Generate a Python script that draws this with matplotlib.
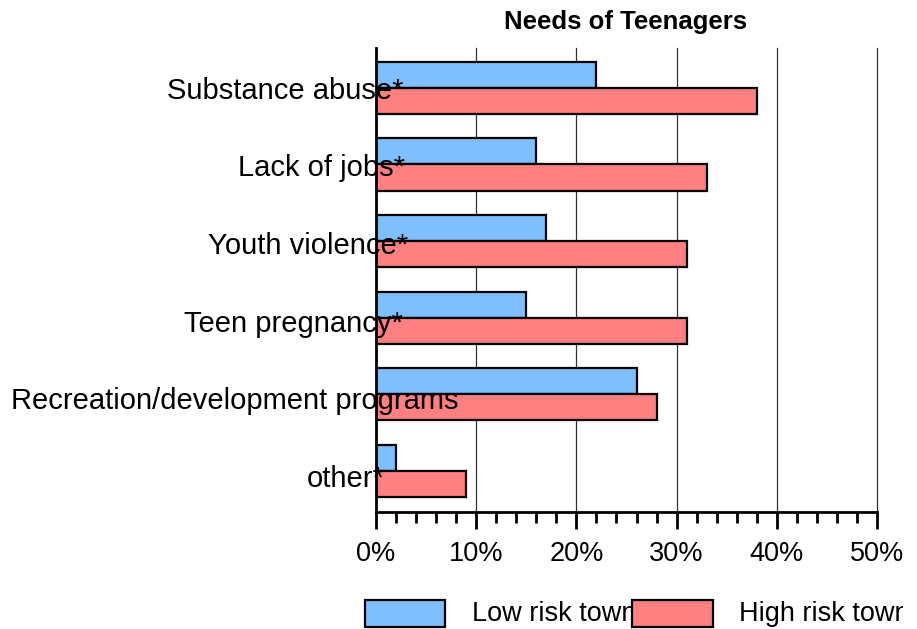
import matplotlib.pyplot as plt
import numpy as np
from matplotlib.patches import Rectangle
from matplotlib.ticker import MultipleLocator, FuncFormatter

# ---------------------------------------------------------------------------
# Data
# ---------------------------------------------------------------------------
CATEGORIES = [
    'Substance abuse*',
    'Lack of jobs*',
    'Youth violence*',
    'Teen pregnancy*',
    'Recreation/development programs',
    'other*',
]
LOW_RISK = [22, 16, 17, 15, 26, 2]      # % of respondents, low risk towns
HIGH_RISK = [38, 33, 31, 31, 28, 9]     # % of respondents, high risk towns
SERIES_NAMES = ['Low risk town', 'High risk town']
TITLE = 'Needs of Teenagers'

# ---------------------------------------------------------------------------
# Style / layout
# ---------------------------------------------------------------------------
LOW_COLOR = '#80BFFF'
HIGH_COLOR = '#FF8080'
EDGE_LW = 1.6
BAR_H = 0.34
FONT = 'Liberation Sans'

# right end of each category label, in % along the x axis
LABEL_RIGHT = [2.7, 2.9, 3.2, 2.7, 8.2, 0.9]

W, H = 917, 629
plt.rcParams['font.family'] = [FONT, 'DejaVu Sans']

fig = plt.figure(figsize=(W / 100, H / 100), dpi=100)
ax = fig.add_axes([376 / W, 1 - 512 / H, 501 / W, 464 / H])

y = np.arange(len(CATEGORIES))
ax.barh(y - BAR_H / 2, LOW_RISK, height=BAR_H, color=LOW_COLOR,
        edgecolor='black', linewidth=EDGE_LW, zorder=2)
ax.barh(y + BAR_H / 2, HIGH_RISK, height=BAR_H, color=HIGH_COLOR,
        edgecolor='black', linewidth=EDGE_LW, zorder=2)

# category names sit on top of the bars, right-aligned near the axis
for i, (name, xr) in enumerate(zip(CATEGORIES, LABEL_RIGHT)):
    ax.text(xr, i + 0.013 * i, name, ha='right', va='center_baseline',
            fontsize=21, zorder=5)

ax.set_xlim(0, 50)
ax.set_ylim(5.535, -0.52)
ax.xaxis.set_major_locator(MultipleLocator(10))
ax.xaxis.set_minor_locator(MultipleLocator(2))
ax.xaxis.set_major_formatter(FuncFormatter(lambda v, _: f'{v:.0f}%'))
ax.tick_params(axis='x', which='major', length=12, width=2, pad=9,
               labelsize=19.5)
ax.tick_params(axis='x', which='minor', length=8, width=2)
ax.set_yticks([])

for side in ('top', 'right'):
    ax.spines[side].set_visible(False)
for side in ('left', 'bottom'):
    ax.spines[side].set_linewidth(2)
ax.grid(axis='x', which='major', color='#333333', linewidth=0.9, zorder=0)
ax.set_axisbelow(True)
for gl in ax.get_xgridlines():
    gl.set_clip_on(False)

fig.text(626 / W, 1 - 22 / H, TITLE, ha='center', va='center',
         fontsize=18.5, fontweight='bold')

# ---- legend, laid out by hand --------------------------------------------
leg_y0, leg_y1 = 1 - 627 / H, 1 - 600 / H
fig.patches.append(Rectangle((365 / W, leg_y0), 80 / W, leg_y1 - leg_y0,
                             transform=fig.transFigure, facecolor=LOW_COLOR,
                             edgecolor='black', linewidth=EDGE_LW, zorder=3))
fig.text(472 / W, 1 - 614 / H, SERIES_NAMES[0], ha='left', va='center',
         fontsize=19.5, zorder=2)
fig.patches.append(Rectangle((632 / W, leg_y0), 81 / W, leg_y1 - leg_y0,
                             transform=fig.transFigure, facecolor=HIGH_COLOR,
                             edgecolor='black', linewidth=EDGE_LW, zorder=4))
fig.text(739 / W, 1 - 614 / H, SERIES_NAMES[1], ha='left', va='center',
         fontsize=19.5, zorder=2)

# the drawing area stops short of the right edge
fig.patches.append(Rectangle((903 / W, 0), 1, 1, transform=fig.transFigure,
                             facecolor='white', edgecolor='none', zorder=10))

fig.savefig('out.png', dpi=100)
